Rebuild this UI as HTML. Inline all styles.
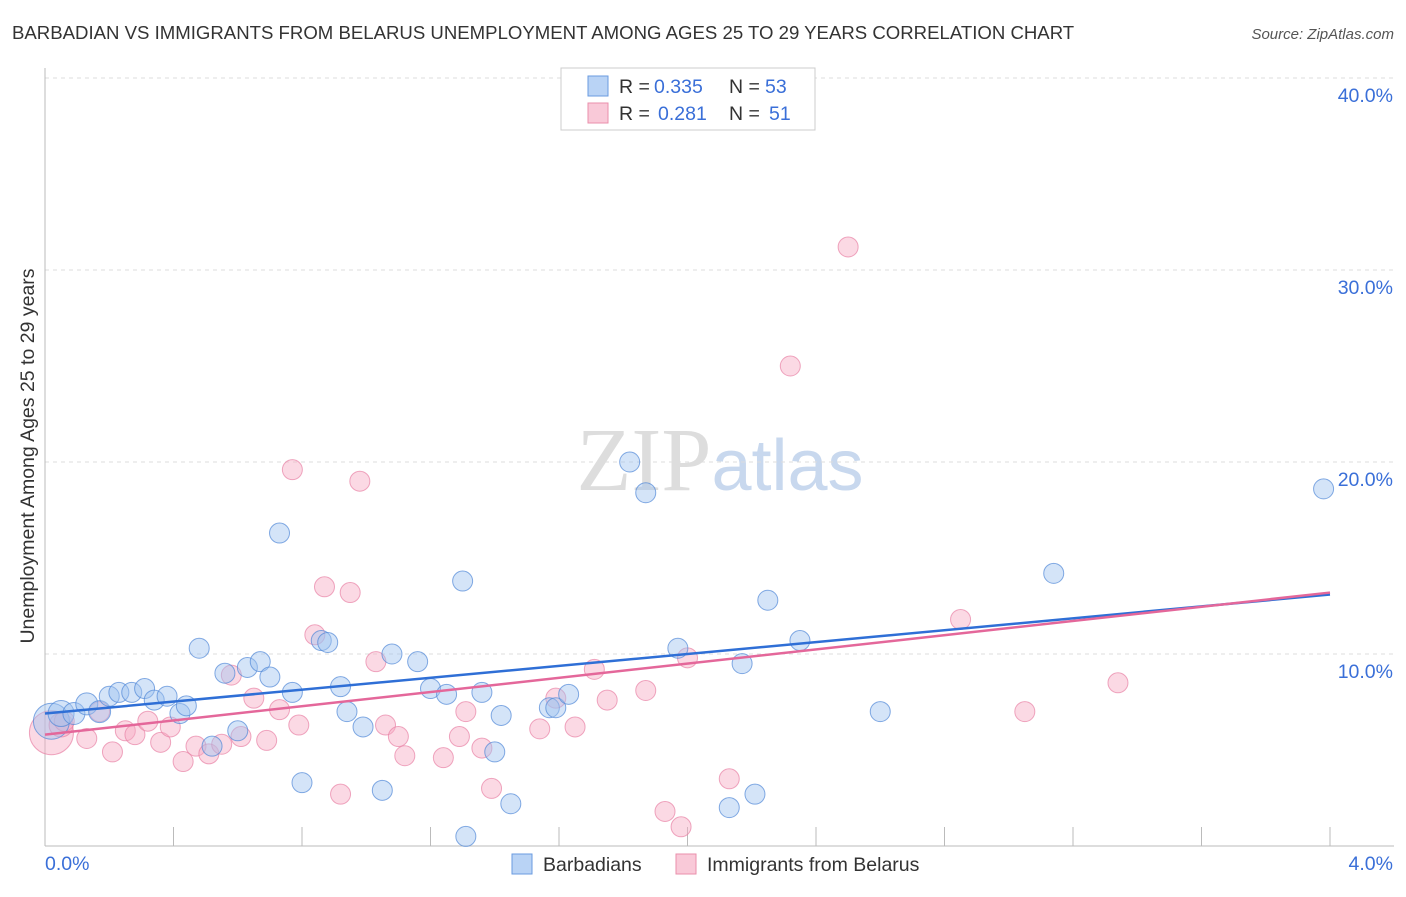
<!DOCTYPE html>
<html><head><meta charset="utf-8"><style>
body{margin:0;background:#fff;font-family:"Liberation Sans",sans-serif;}
</style></head><body>
<svg id="chart" width="1406" height="892" xmlns="http://www.w3.org/2000/svg" font-family="Liberation Sans, sans-serif">
<text x="12" y="39" font-size="18.6" fill="#333">BARBADIAN VS IMMIGRANTS FROM BELARUS UNEMPLOYMENT AMONG AGES 25 TO 29 YEARS CORRELATION CHART</text>
<text x="1394" y="39" font-size="15" fill="#555" text-anchor="end" font-style="italic">Source: ZipAtlas.com</text>
<text transform="translate(34,456) rotate(-90)" font-size="19.5" fill="#333" text-anchor="middle">Unemployment Among Ages 25 to 29 years</text>
<text x="720" y="490" font-size="90" text-anchor="middle" fill="#ddd" font-family="Liberation Serif, serif">ZIP<tspan fill="#c8d8ee" font-family="Liberation Sans, sans-serif" font-size="72">atlas</tspan></text>
<g id="grid"></g><g id="axes"></g><g id="points"></g><g id="lines"></g>
<g>
<rect x="561" y="68" width="254" height="62" fill="#fff" stroke="#ccc"/>
<rect x="588" y="76" width="20" height="20" fill="#b9d3f5" stroke="#6a9be0"/>
<text x="619" y="93" font-size="19.5" fill="#333">R =</text>
<text x="654" y="93" font-size="19.5" fill="#3a6fd8">0.335</text>
<text x="729" y="93" font-size="19.5" fill="#333">N =</text>
<text x="765" y="93" font-size="19.5" fill="#3a6fd8">53</text>
<rect x="588" y="103" width="20" height="20" fill="#f9c9d8" stroke="#ea8fab"/>
<text x="619" y="120" font-size="19.5" fill="#333">R =</text>
<text x="658" y="120" font-size="19.5" fill="#3a6fd8">0.281</text>
<text x="729" y="120" font-size="19.5" fill="#333">N =</text>
<text x="769" y="120" font-size="19.5" fill="#3a6fd8">51</text>
</g>
<g>
<rect x="512" y="854" width="20" height="20" fill="#b9d3f5" stroke="#6a9be0"/>
<text x="543" y="871" font-size="19.5" fill="#333">Barbadians</text>
<rect x="676" y="854" width="20" height="20" fill="#f9c9d8" stroke="#ea8fab"/>
<text x="707" y="871" font-size="19.5" fill="#333">Immigrants from Belarus</text>
</g>
</svg>
<script>
const yTicks=[10,20,30,40];
const xTickLabels=["0.0%","4.0%"];
const blueX=[0.02,0.05,0.09,0.13,0.17,0.2,0.23,0.27,0.31,0.34,0.38,0.42,0.44,0.48,0.52,0.56,0.6,0.63,0.67,0.7,0.73,0.77,0.8,0.86,0.88,0.92,0.94,0.99,1.05,1.08,1.16,1.2,1.25,1.3,1.31,1.36,1.4,1.42,1.45,1.57,1.59,1.63,1.82,1.87,1.97,2.13,2.17,2.21,2.25,2.35,2.6,3.14,3.98];
const blueY=[6.5,6.9,6.9,7.4,7.0,7.8,8.0,8.0,8.2,7.6,7.8,6.9,7.3,10.3,5.2,9.0,6.0,9.3,9.6,8.8,16.3,8.0,3.3,10.7,10.6,8.3,7.0,6.2,2.9,10.0,9.6,8.2,7.9,13.8,0.5,8.0,4.9,6.8,2.2,7.2,7.2,7.9,20.0,18.4,10.3,2.0,9.5,2.7,12.8,10.7,7.0,14.2,18.6];
const blueR=[18,13,11,11,11,10,10,10,10,10,10,10,10,10,10,10,10,10,10,10,10,10,10,10,10,10,10,10,10,10,10,10,10,10,10,10,10,10,10,10,10,10,10,10,10,10,10,10,10,10,10,10,10];
const pinkX=[0.02,0.05,0.06,0.13,0.17,0.21,0.25,0.28,0.32,0.36,0.39,0.43,0.47,0.51,0.55,0.58,0.61,0.65,0.69,0.73,0.77,0.79,0.84,0.87,0.92,0.95,0.98,1.03,1.06,1.1,1.12,1.24,1.29,1.31,1.36,1.39,1.54,1.59,1.65,1.71,1.75,1.87,1.93,1.98,2.0,2.13,2.32,2.5,2.85,3.05,3.34];
const pinkY=[5.9,6.3,6.5,5.6,7.0,4.9,6.0,5.8,6.5,5.4,6.2,4.4,5.2,4.8,5.3,8.9,5.7,7.7,5.5,7.1,19.6,6.3,11.0,13.5,2.7,13.2,19.0,9.6,6.3,5.7,4.7,4.6,5.7,7.0,5.1,3.0,6.1,7.7,6.2,9.2,7.6,8.1,1.8,1.0,9.8,3.5,25.0,31.2,11.8,7.0,8.5];
const pinkR=[22,12,10,10,10,10,10,10,10,10,10,10,10,10,10,10,10,10,10,10,10,10,10,10,10,10,10,10,10,10,10,10,10,10,10,10,10,10,10,10,10,10,10,10,10,10,10,10,10,10,10];
const blueLine=[6.9,13.1];
const pinkLine=[5.8,13.2];
const NS="http://www.w3.org/2000/svg";
const X0=45,X1=1330,Y0=846,PX=19.2;
function sx(v){return X0+(v/4)*(X1-X0);}
function sy(v){return Y0-v*PX;}
function mk(tag,attrs,parent){const e=document.createElementNS(NS,tag);for(const k in attrs)e.setAttribute(k,attrs[k]);document.getElementById(parent).appendChild(e);return e;}
yTicks.forEach(t=>{
 const l=mk('line',{x1:45,x2:1394,y1:sy(t),y2:sy(t),stroke:'#ddd','stroke-dasharray':'4 4'},'grid');
 
 
 const tx=mk('text',{x:1393,y:sy(t)+24,'font-size':19.5,fill:'#3a6fd8','text-anchor':'end'},'grid');
 tx.textContent=t.toFixed(1)+'%';
 
 
});
const ax=mk('line',{x1:45,x2:45,y1:68,y2:846,stroke:'#bbb'},'axes');


const bx=mk('line',{x1:45,x2:1394,y1:846,y2:846,stroke:'#bbb'},'axes');


for(let i=1;i<=10;i++){const t=mk('line',{x1:sx(i*0.4),x2:sx(i*0.4),y1:827,y2:846,stroke:'#bbb'},'axes');
 
 }
[[0,45,'start'],[4,1393,'end']].forEach((d,i)=>{const t=mk('text',{x:d[1],y:870,'font-size':19.5,fill:'#3a6fd8','text-anchor':d[2]},'axes');t.textContent=xTickLabels[i];
 
 });
pinkX.forEach((v,i)=>{const c=mk('circle',{cx:sx(v),cy:sy(pinkY[i]),r:pinkR[i],fill:'rgba(246,170,195,0.45)',stroke:'rgba(232,130,165,0.7)'},'points');
 
 });
blueX.forEach((v,i)=>{const c=mk('circle',{cx:sx(v),cy:sy(blueY[i]),r:blueR[i],fill:'rgba(160,195,240,0.45)',stroke:'rgba(80,135,215,0.7)'},'points');
 
 });
const bl=mk('line',{x1:sx(0),y1:sy(blueLine[0]),x2:sx(4),y2:sy(blueLine[1]),stroke:'#2f6fd6','stroke-width':2.5},'lines');


const pl=mk('line',{x1:sx(0),y1:sy(pinkLine[0]),x2:sx(4),y2:sy(pinkLine[1]),stroke:'#e4679a','stroke-width':2.5},'lines');


</script>
</body></html>
